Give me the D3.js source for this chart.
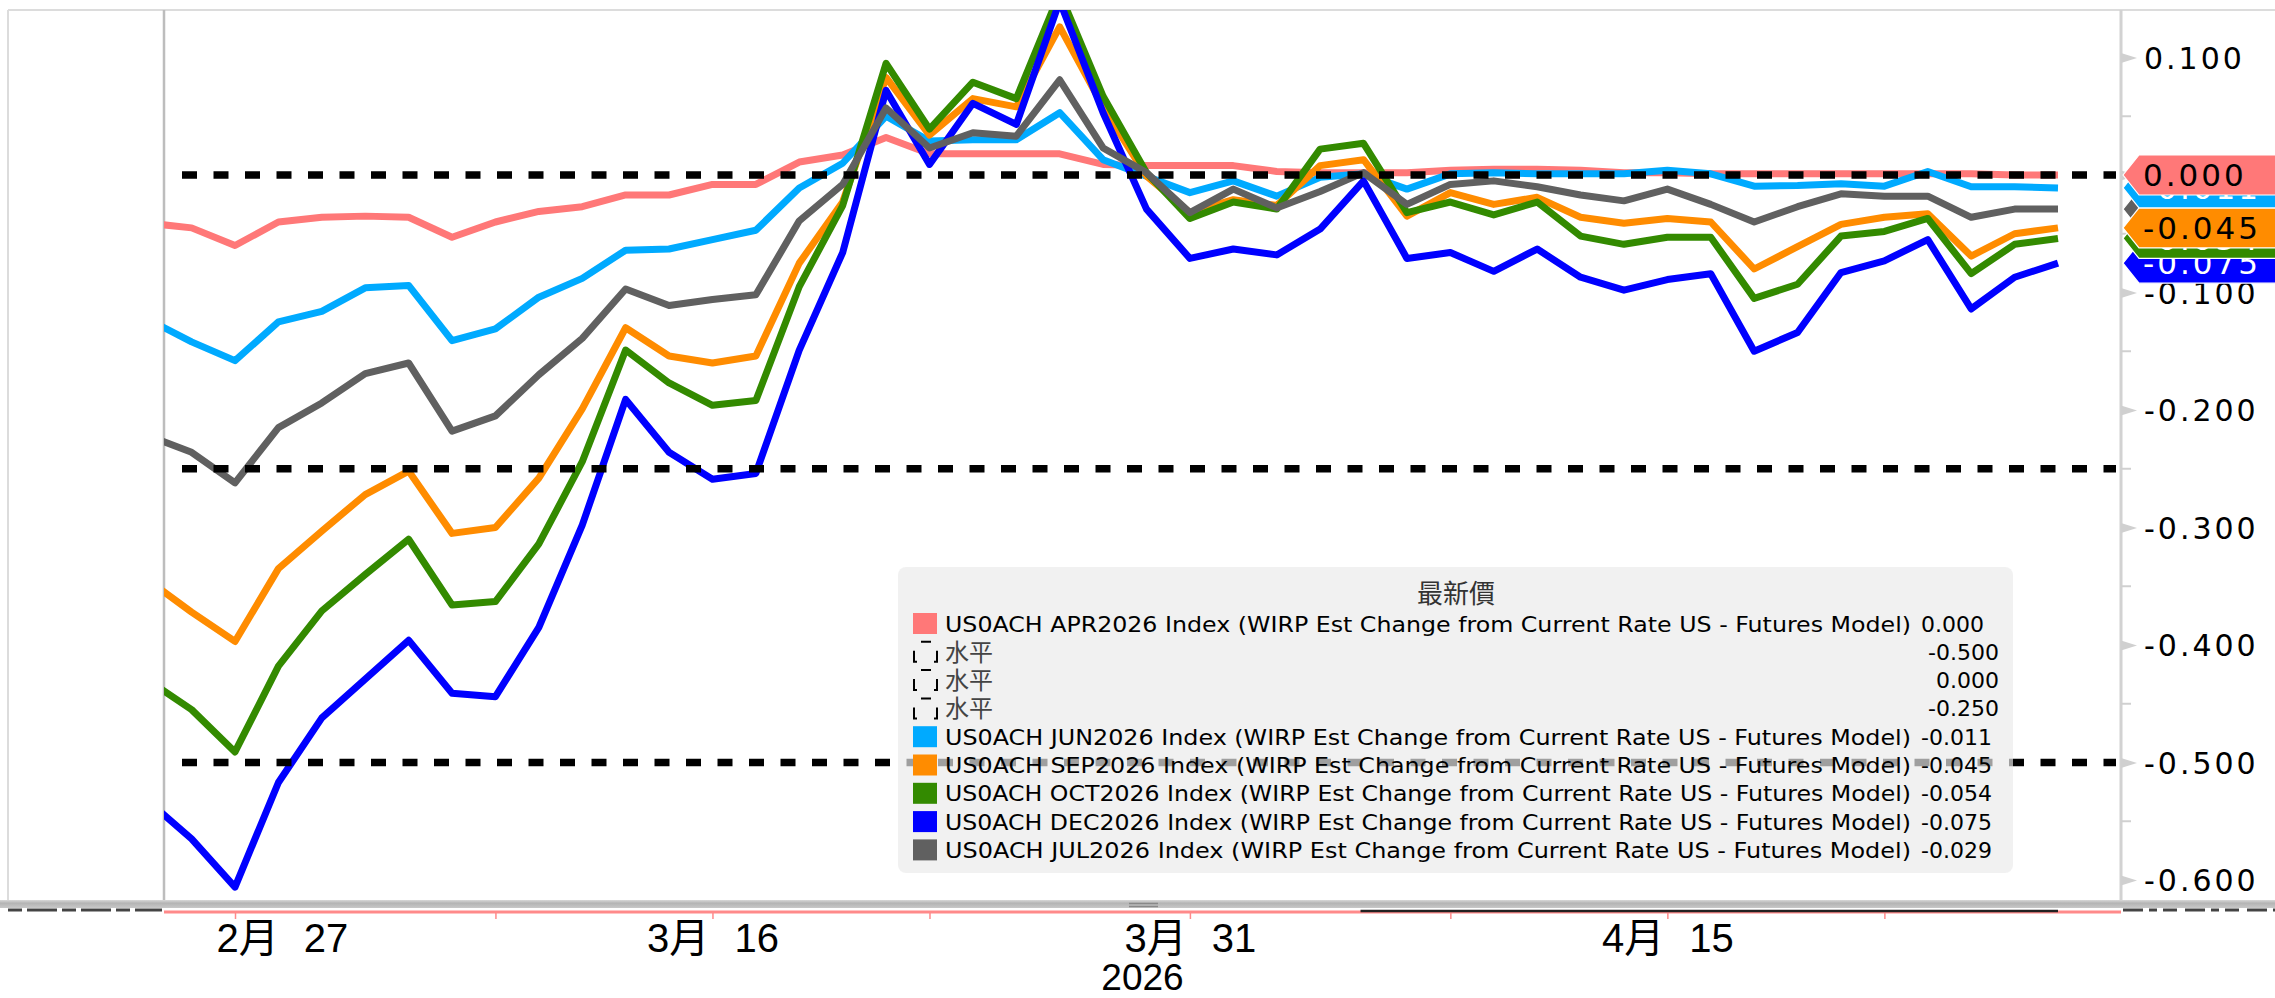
<!DOCTYPE html>
<html><head><meta charset="utf-8">
<script src="https://cdn.jsdelivr.net/npm/d3@7"></script>
<style>
html,body{margin:0;padding:0;background:#fff;overflow:hidden}
svg{display:block}
</style></head><body>
<svg id="c" width="2275" height="998"></svg>
<script>
// ---------------- DATA ----------------
const dates = ["2026-02-25","2026-02-26","2026-02-27","2026-03-02","2026-03-03","2026-03-04","2026-03-05","2026-03-06",
"2026-03-09","2026-03-10","2026-03-11","2026-03-12","2026-03-13","2026-03-16","2026-03-17","2026-03-18","2026-03-19","2026-03-20",
"2026-03-23","2026-03-24","2026-03-25","2026-03-26","2026-03-27","2026-03-30","2026-03-31","2026-04-01","2026-04-02","2026-04-03",
"2026-04-06","2026-04-07","2026-04-08","2026-04-09","2026-04-10","2026-04-13","2026-04-14","2026-04-15","2026-04-16","2026-04-17",
"2026-04-20","2026-04-21","2026-04-22","2026-04-23","2026-04-24","2026-04-27","2026-04-28"];

const aprValues = [-0.041,-0.045,-0.060,-0.040,-0.036,-0.035,-0.036,-0.053,-0.040,-0.031,-0.027,-0.017,-0.017,-0.008,-0.008,0.011,0.017,0.032,
0.018,0.018,0.018,0.018,0.009,0.008,0.008,0.008,0.003,0.002,0.002,0.002,0.004,0.005,0.005,0.004,0.002,0.002,0.001,0.001,
0.001,0.001,0.001,0.001,0.001,0.000,0.000];
const junValues = [-0.123,-0.142,-0.158,-0.125,-0.116,-0.096,-0.094,-0.141,-0.131,-0.104,-0.088,-0.064,-0.063,-0.055,-0.047,-0.011,0.010,0.050,
0.029,0.030,0.030,0.053,0.013,-0.001,-0.015,-0.005,-0.018,-0.002,0.001,-0.012,0.001,0.002,0.001,0.001,0.001,0.004,0.001,-0.0095,
-0.009,-0.0075,-0.0095,0.003,-0.010,-0.010,-0.011];
const sepValues = [-0.345,-0.372,-0.397,-0.335,-0.303,-0.272,-0.252,-0.305,-0.300,-0.258,-0.199,-0.130,-0.154,-0.160,-0.154,-0.075,-0.023,0.083,
0.034,0.065,0.058,0.126,0.058,-0.001,-0.032,-0.021,-0.026,0.008,0.013,-0.035,-0.015,-0.025,-0.019,-0.036,-0.041,-0.037,-0.040,-0.080,
-0.061,-0.042,-0.036,-0.033,-0.069,-0.050,-0.045];
const octValues = [-0.430,-0.455,-0.491,-0.418,-0.371,-0.340,-0.310,-0.366,-0.363,-0.314,-0.244,-0.149,-0.177,-0.196,-0.192,-0.095,-0.026,0.095,
0.039,0.079,0.065,0.155,0.067,0.002,-0.037,-0.023,-0.029,0.022,0.027,-0.032,-0.023,-0.034,-0.023,-0.052,-0.059,-0.053,-0.053,-0.105,
-0.093,-0.052,-0.048,-0.037,-0.084,-0.059,-0.054];
const decValues = [-0.533,-0.565,-0.606,-0.517,-0.462,-0.429,-0.396,-0.441,-0.444,-0.385,-0.298,-0.191,-0.236,-0.259,-0.254,-0.149,-0.066,0.072,
0.009,0.061,0.043,0.148,0.053,-0.029,-0.071,-0.063,-0.068,-0.046,-0.005,-0.071,-0.066,-0.082,-0.063,-0.087,-0.098,-0.089,-0.084,-0.150,
-0.134,-0.083,-0.073,-0.055,-0.114,-0.087,-0.075];
const julValues = [-0.222,-0.236,-0.262,-0.215,-0.194,-0.169,-0.160,-0.218,-0.205,-0.170,-0.139,-0.097,-0.111,-0.106,-0.102,-0.039,-0.008,0.057,
0.023,0.036,0.033,0.081,0.023,0.002,-0.032,-0.012,-0.028,-0.014,0.002,-0.025,-0.008,-0.005,-0.010,-0.017,-0.022,-0.012,-0.025,-0.040,
-0.027,-0.016,-0.018,-0.018,-0.036,-0.029,-0.029];

const seriesNames = [
 "US0ACH APR2026 Index (WIRP Est Change from Current Rate US - Futures Model)",
 "US0ACH JUN2026 Index (WIRP Est Change from Current Rate US - Futures Model)",
 "US0ACH SEP2026 Index (WIRP Est Change from Current Rate US - Futures Model)",
 "US0ACH OCT2026 Index (WIRP Est Change from Current Rate US - Futures Model)",
 "US0ACH DEC2026 Index (WIRP Est Change from Current Rate US - Futures Model)",
 "US0ACH JUL2026 Index (WIRP Est Change from Current Rate US - Futures Model)"];
const seriesColors = ["#ff7878","#00aaff","#ff8c00","#338a00","#0000ff","#606060"];
const tagTextColors = ["#000","#fff","#000","#fff","#fff","#fff"];
const hLineValues = [-0.5, 0, -0.25];
const hLineLabel = "水平";
const legendTitle = "最新價";
const yTickValues = [0.1,0,-0.1,-0.2,-0.3,-0.4,-0.5,-0.6];
const yMinorValues = [0.05,-0.05,-0.15,-0.25,-0.35,-0.45,-0.55];
const xLabelDates = ["2026-02-27","2026-03-16","2026-03-31","2026-04-15"];
const xMinorDates = ["2026-03-09","2026-03-23","2026-04-08","2026-04-22"];
const yearLabel = "2026";
const highlightRange = ["2026-04-06","2026-04-28"];

// ---------------- SETUP ----------------
const series = [aprValues, junValues, sepValues, octValues, decValues, julValues];
const fmt = d3.formatLocale({decimal:".",thousands:",",grouping:[3],currency:["",""],minus:"-"}).format(".3f");
const svg = d3.select("#c");
const L = 164, R = 2121, T = 10, B = 900;
const idx = d => dates.indexOf(d);
const x = d3.scaleLinear().domain([0, dates.length-1]).range([148.2, 2058]);
const y = d3.scaleLinear().domain([0.1, -0.6]).range([57.5, 880]);

svg.append("defs").append("clipPath").attr("id","plot")
  .append("rect").attr("x",L).attr("y",T).attr("width",R-L).attr("height",B-T);

// frames
svg.append("line").attr("x1",8).attr("x2",2275).attr("y1",10).attr("y2",10).attr("stroke","#dcdcdc").attr("stroke-width",2);
svg.append("line").attr("x1",8).attr("x2",8).attr("y1",10).attr("y2",B).attr("stroke","#dcdcdc").attr("stroke-width",2);
svg.append("line").attr("x1",L).attr("x2",L).attr("y1",10).attr("y2",B).attr("stroke","#bdbdbd").attr("stroke-width",2.5);
svg.append("line").attr("x1",R).attr("x2",R).attr("y1",10).attr("y2",B).attr("stroke","#d2d2d2").attr("stroke-width",3);

// data lines
const gLines = svg.append("g").attr("clip-path","url(#plot)");
const line = d3.line().x((d,i)=>x(i)).y(d=>y(d));
series.forEach((s,k)=>{
  gLines.append("path").datum(s).attr("d",line).attr("fill","none")
    .attr("stroke",seriesColors[k]).attr("stroke-width",7)
    .attr("stroke-linejoin","round").attr("stroke-linecap","butt");
});

// horizontal dashed lines
const gH = svg.append("g");
hLineValues.forEach(v=>{
  gH.append("line").attr("x1",182).attr("x2",2116).attr("y1",y(v)).attr("y2",y(v))
    .attr("stroke","#000").attr("stroke-width",7.5).attr("stroke-dasharray","15,16.5");
});

// y axis
const yAxis = d3.axisRight(y).tickValues(yTickValues).tickFormat(fmt).tickSize(0).tickPadding(23);
const gy = svg.append("g").attr("transform",`translate(${R},0)`).call(yAxis);
gy.select(".domain").remove();
gy.selectAll("text").attr("font-family","DejaVu Sans").attr("font-size",30)
  .attr("letter-spacing",3).attr("fill","#000").attr("dy","0.36em");
gy.selectAll(".tick").append("path").attr("d","M0,-5L16,0L0,5Z").attr("fill","#d0d0d0");
yMinorValues.forEach(v=>{
  svg.append("line").attr("x1",R).attr("x2",R+10).attr("y1",y(v)).attr("y2",y(v)).attr("stroke","#d0d0d0").attr("stroke-width",2);
});

// last-value tags (drawn bottom -> top in reverse legend order)
const gTags = svg.append("g");
const tagH = 40;
d3.range(series.length).reverse().forEach(k=>{
  const v = series[k][series[k].length-1];
  const cy = y(v);
  const tip = R+2;
  gTags.append("path")
    .attr("d",`M${tip},${cy}L${tip+16},${cy-tagH/2}L2300,${cy-tagH/2}L2300,${cy+tagH/2}L${tip+16},${cy+tagH/2}Z`)
    .attr("fill",seriesColors[k]).attr("stroke","#fff").attr("stroke-width",1.2);
  gTags.append("text").attr("x",2143).attr("y",cy).attr("dy","0.36em")
    .attr("font-family","DejaVu Sans").attr("font-size",31).attr("letter-spacing",3)
    .attr("fill",tagTextColors[k]).text(fmt(v));
});

// bottom bar
const barGrad = svg.append("defs").append("linearGradient").attr("id","bar").attr("x1",0).attr("x2",0).attr("y1",0).attr("y2",1);
barGrad.append("stop").attr("offset","0").attr("stop-color","#d8d8d8");
barGrad.append("stop").attr("offset","0.4").attr("stop-color","#b4b4b4");
barGrad.append("stop").attr("offset","1").attr("stop-color","#c8c8c8");
svg.append("rect").attr("x",0).attr("y",B).attr("width",2275).attr("height",8).attr("fill","url(#bar)");
[903.5,906.5].forEach(yy=>svg.append("line").attr("x1",1129).attr("x2",1158).attr("y1",yy).attr("y2",yy).attr("stroke","#888").attr("stroke-width",1.5));

// x axis
const xTickIdx = xLabelDates.concat(xMinorDates).map(idx).sort((a,b)=>a-b);
const labelSet = new Set(xLabelDates.map(idx));
const xAxis = d3.axisBottom(x).tickValues(xTickIdx).tickSize(7).tickPadding(0)
  .tickFormat(i => labelSet.has(i) ? (+dates[i].slice(5,7))+"月 "+(+dates[i].slice(8,10)) : "");
const gx = svg.append("g").attr("transform",`translate(0,912)`).call(xAxis);
gx.select(".domain").attr("d",`M${L},0H${R}`).attr("stroke","#ff8a8a").attr("stroke-width",3);
gx.selectAll(".tick line").attr("stroke","#ff8a8a").attr("stroke-width",1.5);
gx.selectAll("text").attr("font-family","Liberation Sans, Noto Sans CJK TC").attr("font-size",40)
  .attr("fill","#000").attr("y",40).attr("dy",0).attr("word-spacing",14);
// first label kept inside the plot like the original
gx.selectAll(".tick").filter(i=>i===idx(xLabelDates[0])).select("text").attr("text-anchor","start").attr("x",-19);
svg.append("line").attr("x1",x(idx(highlightRange[0]))-3).attr("x2",x(idx(highlightRange[1])))
  .attr("y1",911).attr("y2",911).attr("stroke","#222").attr("stroke-width",2.5);
svg.append("text").attr("x",(L+R)/2).attr("y",990).attr("text-anchor","middle")
  .attr("font-family","Liberation Sans").attr("font-size",37).attr("fill","#000").text(yearLabel);
svg.append("line").attr("x1",8).attr("x2",162).attr("y1",910).attr("y2",910).attr("stroke","#444").attr("stroke-width",3).attr("stroke-dasharray","14,5,30,5");
svg.append("line").attr("x1",2123).attr("x2",2275).attr("y1",910).attr("y2",910).attr("stroke","#444").attr("stroke-width",3).attr("stroke-dasharray","20,6,8,6,14,8");

// legend
const lg = svg.append("g");
lg.append("rect").attr("x",898).attr("y",567).attr("width",1115).attr("height",306).attr("rx",8)
  .attr("fill","rgb(234,234,234)").attr("fill-opacity",0.68);
lg.append("text").attr("x",1456).attr("y",603).attr("text-anchor","middle")
  .attr("font-family","Noto Sans CJK TC").attr("font-size",26).attr("fill","#333").text(legendTitle);
const legendRows = [
  {type:"s",k:0},{type:"h",v:hLineValues[0]},{type:"h",v:hLineValues[1]},{type:"h",v:hLineValues[2]},
  {type:"s",k:1},{type:"s",k:2},{type:"s",k:3},{type:"s",k:4},{type:"s",k:5}];
legendRows.forEach((r,i)=>{
  const cy = 623.5 + i*28.3;
  const row = lg.append("g");
  if(r.type==="s"){
    row.append("rect").attr("x",913).attr("y",cy-10.5).attr("width",24).attr("height",21).attr("fill",seriesColors[r.k]);
    row.append("text").attr("x",945).attr("y",cy+8).attr("font-family","DejaVu Sans").attr("font-size",22)
      .attr("textLength",966).attr("lengthAdjust","spacingAndGlyphs").attr("fill","#000").text(seriesNames[r.k]);
    const s = series[r.k];
    row.append("text").attr("x",1921).attr("y",cy+8).attr("font-family","DejaVu Sans")
      .attr("font-size",22).attr("fill","#000").text(fmt(s[s.length-1]));
  } else {
    const x0=914, y0=cy-10;
    row.append("path").attr("d",`M${x0+7},${y0}H${x0+17}M${x0},${y0+9}V${y0+20}H${x0+3}M${x0+23},${y0+9}V${y0+20}H${x0+20}`)
      .attr("fill","none").attr("stroke","#000").attr("stroke-width",2);
    row.append("text").attr("x",945).attr("y",cy+9).attr("font-family","Noto Sans CJK TC").attr("font-size",24)
      .attr("fill","#444").text(hLineLabel);
    row.append("text").attr("x",1999).attr("y",cy+8).attr("text-anchor","end").attr("font-family","DejaVu Sans")
      .attr("font-size",22).attr("fill","#000").text(fmt(r.v));
  }
});
</script>
</body></html>
